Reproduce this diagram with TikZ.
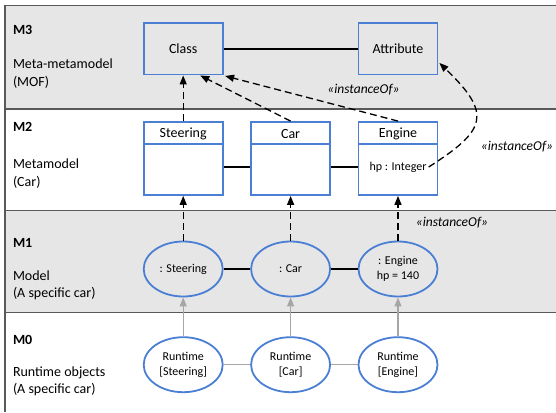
\documentclass[tikz,border=0pt]{standalone}
\usepackage{fontspec}
\setmainfont{Carlito}
\usetikzlibrary{arrows.meta,shapes.geometric}
\definecolor{bandgray}{HTML}{E6E6E6}
\definecolor{frameline}{HTML}{595959}
\definecolor{umlblue}{HTML}{4A7FD4}
\definecolor{linkgray}{HTML}{A6A6A6}
\begin{document}
\begin{tikzpicture}[x=1pt,y=-1pt,
  umlbox/.style={draw=umlblue,line width=1.8pt,minimum width=79pt,inner sep=0pt},
  boxlbl/.style={font=\fontsize{14}{16}\selectfont,inner sep=0pt},
  smalltxt/.style={font=\fontsize{12}{15}\selectfont,align=center,inner sep=2pt},
  lvl/.style={font=\bfseries\fontsize{14}{17}\selectfont,anchor=west,inner sep=0pt},
  lvltxt/.style={font=\fontsize{14}{17.5}\selectfont,anchor=west,align=left,inner sep=0pt},
  inst/.style={font=\itshape\fontsize{13.5}{16}\selectfont,inner sep=0pt},
  oval/.style={ellipse,draw=umlblue,line width=1.8pt,minimum width=79pt,minimum height=55pt,inner sep=0pt,font=\fontsize{12}{15}\selectfont,align=center},
  dasharrow/.style={line width=1.3pt,dash pattern=on 7pt off 4pt,-{Triangle[length=9pt,width=7pt]}},
  grayarrow/.style={draw=linkgray,line width=1.1pt,-{Triangle[length=9pt,width=7pt,fill=linkgray]}},
  link/.style={line width=1.6pt},
  graylink/.style={draw=linkgray,line width=1.1pt},
  bandline/.style={draw=frameline,line width=1.4pt}
]
\useasboundingbox (0,0) rectangle (556,412);
\fill[white] (0,0) rectangle (556,412);
\fill[bandgray] (5,5.5) rectangle (556,109);
\fill[bandgray] (5,210.7) rectangle (556,312.7);
\draw[bandline] (556,5.5) -- (5,5.5) -- (5,412);
\draw[bandline] (5,109) -- (556,109);
\draw[bandline] (5,210.7) -- (556,210.7);
\draw[bandline] (5,312.7) -- (556,312.7);

% level labels
\node[lvl] (m3) at (12.8,30) {M3};
\node[lvltxt] (m3t) at (12.8,73.4) {Meta-metamodel\\(MOF)};
\node[lvl] (m2) at (12.8,127) {M2};
\node[lvltxt] (m2t) at (12.8,173.5) {Metamodel\\(Car)};
\node[lvl] (m1) at (12.8,243) {M1};
\node[lvltxt] (m1t) at (12.8,285.5) {Model\\(A specific car)};
\node[lvl] (m0) at (12.8,340) {M0};
\node[lvltxt] (m0t) at (12.8,381.5) {Runtime objects\\(A specific car)};

% M3
\node[umlbox,minimum height=51.5pt,font=\fontsize{14}{16}\selectfont] (class) at (183.2,48.8) {Class};
\node[umlbox,minimum height=51.5pt,font=\fontsize{14}{16}\selectfont] (attr) at (398,48.8) {Attribute};
\draw[link] (class) -- (attr);

% M2
\node[umlbox,minimum height=73pt] (steer) at (183.2,158.5) {};
\node[umlbox,minimum height=73pt] (car) at (290.6,158.5) {};
\node[umlbox,minimum height=73pt] (eng) at (398,158.5) {};
\node[boxlbl] (steerh) at (183.2,134) {Steering};
\node[boxlbl] (carh) at (290.6,134) {Car};
\node[boxlbl] (engh) at (398,134) {Engine};
\foreach \b in {steer,car,eng}{
  \draw[draw=umlblue,line width=1.8pt] ([yshift=-23pt]\b.north west) -- ([yshift=-23pt]\b.north east);
}
\node[smalltxt] (hp) at (398,167) {hp : Integer};
\draw[link] ([yshift=-8.5pt]steer.east) -- ([yshift=-8.5pt]car.west);
\draw[link] ([yshift=-8.5pt]car.east) -- ([yshift=-8.5pt]eng.west);

% M1
\node[oval] (osteer) at (183.2,269) {: Steering};
\node[oval] (ocar) at (290.6,269) {: Car};
\node[oval] (oeng) at (398,269) {: Engine\\hp = 140};
\draw[link] (osteer) -- (ocar);
\draw[link] (ocar) -- (oeng);

% M0
\node[oval] (rsteer) at (183.2,364.7) {Runtime\\{[Steering]}};
\node[oval] (rcar) at (290.6,364.7) {Runtime\\{[Car]}};
\node[oval] (reng) at (398,364.7) {Runtime\\{[Engine]}};
\draw[graylink] (rsteer) -- (rcar);
\draw[graylink] (rcar) -- (reng);

% instanceOf arrows
\draw[dasharrow] (steer.north) -- (class.south);
\draw[dasharrow] (car.north) -- ([xshift=17pt]class.south);
\draw[dasharrow] (eng.north) -- ([shift={(1.5pt,-0.5pt)}]class.south east);
\coordinate (attrtip) at ([shift={(1pt,12.5pt)}]attr.south east);
\draw[dasharrow] (hp.east) .. controls +(58,-37) and +(53,51) .. (attrtip);

\draw[dasharrow] (osteer.north) -- (steer.south);
\draw[dasharrow] (ocar.north) -- (car.south);
\draw[dasharrow] (oeng.north) -- (eng.south);

\draw[grayarrow] (rsteer.north) -- (osteer.south);
\draw[grayarrow] (rcar.north) -- (ocar.south);
\draw[grayarrow] (reng.north) -- (oeng.south);

\node[inst] (i1) at (363.5,89.7) {«instanceOf»};
\node[inst] (i2) at (517,146.7) {«instanceOf»};
\node[inst] (i3) at (452,223) {«instanceOf»};
\end{tikzpicture}
\end{document}
